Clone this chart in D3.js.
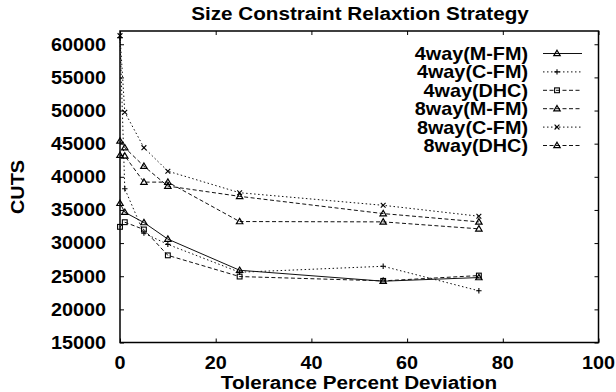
<!DOCTYPE html>
<html>
<head>
<meta charset="utf-8">
<script src="https://cdn.jsdelivr.net/npm/d3@7"></script>
<style>
    body { margin: 0; background: #fff; }
    svg text { font-family: 'Liberation Sans', Arial, Helvetica, sans-serif; font-weight: bold; fill: #000; }
</style>
</head>
<body>
<div id="chart"></div>
<script>
// ... chart values

const tolerance = [0, 1, 5, 10, 25, 55, 75];

const way4MFM = [36000, 34650, 33100, 30600, 25900, 24250, 24800];
const way4CFM = [61000, 38200, 31500, 29800, 25600, 26500, 22800];
const way4DHC = [32450, 33150, 32050, 28150, 24950, 24300, 25100];
const way8MFM = [45400, 44400, 41600, 38600, 37050, 34450, 33200];
const way8CFM = [61300, 49750, 44400, 40850, 37600, 35700, 34050];
const way8DHC = [43250, 43150, 39200, 39200, 33250, 33200, 32150];

const seriesNames = ['4way(M-FM)', '4way(C-FM)', '4way(DHC)', '8way(M-FM)', '8way(C-FM)', '8way(DHC)'];
const xTickValues = [0, 20, 40, 60, 80, 100];
const yTickValues = [15000, 20000, 25000, 30000, 35000, 40000, 45000, 50000, 55000, 60000];

const title = 'Size Constraint Relaxtion Strategy';
const xLabel = 'Tolerance Percent Deviation';
const yLabel = 'CUTS';

// ... line style / point type per series, like gnuplot's mono postscript

const series = [
    {name: seriesNames[0], values: way4MFM, dash: null, point: 'triangle'},
    {name: seriesNames[1], values: way4CFM, dash: '1.5,2.5', point: 'plus'},
    {name: seriesNames[2], values: way4DHC, dash: '4,2.5', point: 'square'},
    {name: seriesNames[3], values: way8MFM, dash: '4,2.5', point: 'triangle'},
    {name: seriesNames[4], values: way8CFM, dash: '1.5,2.5', point: 'cross'},
    {name: seriesNames[5], values: way8DHC, dash: '4,2.5', point: 'triangle'}
];

const W = 616, H = 392;
const plot = {left: 120, right: 598.5, top: 31, bottom: 342.5};
const fontSize = 18;
const stretch = 1.1;

const x = d3.scaleLinear().domain([0, 100]).range([plot.left, plot.right]);
const y = d3.scaleLinear().domain([15000, 62000]).range([plot.bottom, plot.top]);

const svg = d3.select('#chart').append('svg')
    .attr('width', W)
    .attr('height', H);

// stretched text, the eps was scaled a little wider than tall
function label(g, px, py, txt, anchor, rotate, size) {
    return g.append('text')
        .attr('transform', 'translate(' + px + ',' + py + ')' + (rotate ? ' rotate(' + rotate + ')' : '') + ' scale(' + stretch + ',1)')
        .attr('text-anchor', anchor)
        .style('font-size', (size || fontSize) + 'px')
        .text(txt);
}

function drawPoint(g, type, px, py) {
    const s = 2.7;
    if (type === 'triangle') {
        g.append('path')
            .attr('d', 'M' + px + ',' + (py - s - 0.5) + 'L' + (px + s + 0.5) + ',' + (py + s - 0.5) + 'L' + (px - s - 0.5) + ',' + (py + s - 0.5) + 'Z')
            .attr('fill', 'none').attr('stroke', '#000').attr('stroke-width', 1.2);
    } else if (type === 'square') {
        g.append('rect')
            .attr('x', px - s + 0.3).attr('y', py - s + 0.3)
            .attr('width', 2 * s - 0.6).attr('height', 2 * s - 0.6)
            .attr('fill', 'none').attr('stroke', '#000').attr('stroke-width', 1.1);
    } else if (type === 'plus') {
        g.append('path')
            .attr('d', 'M' + (px - s) + ',' + py + 'H' + (px + s) + 'M' + px + ',' + (py - s) + 'V' + (py + s))
            .attr('stroke', '#000').attr('stroke-width', 1.1);
    } else {
        g.append('path')
            .attr('d', 'M' + (px - s + 0.3) + ',' + (py - s + 0.3) + 'L' + (px + s - 0.3) + ',' + (py + s - 0.3) +
                'M' + (px + s - 0.3) + ',' + (py - s + 0.3) + 'L' + (px - s + 0.3) + ',' + (py + s - 0.3))
            .attr('stroke', '#000').attr('stroke-width', 1.1);
    }
}

// ... data lines

const line = d3.line()
    .x(function (d) { return x(d[0]); })
    .y(function (d) { return y(d[1]); });

const body = svg.append('g');

series.forEach(function (s) {
    const pts = tolerance.map(function (t, i) { return [t, s.values[i]]; });
    body.append('path')
        .datum(pts)
        .attr('d', line)
        .attr('fill', 'none')
        .attr('stroke', '#111')
        .attr('stroke-width', 1)
        .attr('stroke-dasharray', s.dash);
    pts.forEach(function (p) {
        drawPoint(body, s.point, x(p[0]), y(p[1]));
    });
});

// ... axes, ticks mirrored inside on all four sides

const axes = svg.append('g');

axes.append('g')
    .attr('transform', 'translate(0,' + plot.bottom + ')')
    .call(d3.axisTop(x).tickValues(xTickValues).tickSize(4).tickFormat(''))
    .call(function (g) { g.select('.domain').remove(); });

axes.append('g')
    .attr('transform', 'translate(0,' + plot.top + ')')
    .call(d3.axisBottom(x).tickValues(xTickValues).tickSize(4).tickFormat(''))
    .call(function (g) { g.select('.domain').remove(); });

axes.append('g')
    .attr('transform', 'translate(' + plot.left + ',0)')
    .call(d3.axisRight(y).tickValues(yTickValues).tickSize(4).tickFormat(''))
    .call(function (g) { g.select('.domain').remove(); });

axes.append('g')
    .attr('transform', 'translate(' + plot.right + ',0)')
    .call(d3.axisLeft(y).tickValues(yTickValues).tickSize(4).tickFormat(''))
    .call(function (g) { g.select('.domain').remove(); });

axes.selectAll('.tick line').attr('stroke', '#000').attr('stroke-width', 1);

axes.append('rect')
    .attr('x', plot.left)
    .attr('y', plot.top)
    .attr('width', plot.right - plot.left)
    .attr('height', plot.bottom - plot.top)
    .attr('fill', 'none')
    .attr('stroke', '#000')
    .attr('stroke-width', 1.5);

// ... tick labels

xTickValues.forEach(function (v) {
    label(svg, x(v), 368.5, String(v), 'middle');
});

yTickValues.forEach(function (v) {
    label(svg, 106, y(v) + 6.4, String(v), 'end');
});

// ... titles

label(svg, 360, 20, title, 'middle', 0, 18.8);
label(svg, 359, 389, xLabel, 'middle', 0, 18.8);
label(svg, 24, 187, yLabel, 'middle', -90);

// ... key

const key = svg.append('g');

series.forEach(function (s, i) {
    const ky = 53.5 + i * 18.4;
    label(key, 528, ky + 6.4, s.name, 'end');
    key.append('line')
        .attr('x1', 543).attr('x2', 582)
        .attr('y1', ky).attr('y2', ky)
        .attr('stroke', '#111')
        .attr('stroke-width', 1)
        .attr('stroke-dasharray', s.dash);
    drawPoint(key, s.point, 557, ky);
});
</script>
</body>
</html>
